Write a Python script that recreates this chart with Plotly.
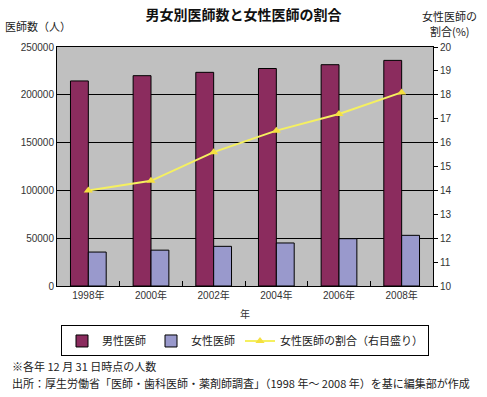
import plotly.graph_objects as go

years = ["1998年", "2000年", "2002年", "2004年", "2006年", "2008年"]
male = [214500, 220000, 223500, 227500, 231500, 236000]
female = [35500, 37500, 41500, 45000, 49500, 53000]
ratio = [14.0, 14.4, 15.6, 16.5, 17.2, 18.1]

JP = "Noto Sans CJK JP"
NUM = "Arial, 'Liberation Sans', 'Noto Sans CJK JP'"

fig = go.Figure()
fig.add_trace(go.Bar(x=years, y=male, name="男性医師",
                     marker=dict(color="#8B2C5E", line=dict(color="black", width=1))))
fig.add_trace(go.Bar(x=years, y=female, name="女性医師",
                     marker=dict(color="#9999CC", line=dict(color="black", width=1))))
fig.add_trace(go.Scatter(x=years, y=ratio, name="女性医師の割合（右目盛り）", yaxis="y2",
                         mode="lines+markers",
                         line=dict(color="#F5F060", width=2),
                         marker=dict(symbol="triangle-up", size=8, color="#F5E040")))

fig.update_layout(
    width=487, height=397,
    margin=dict(l=57, r=54, t=47, b=111, autoexpand=False),
    paper_bgcolor="white", plot_bgcolor="#C0C0C0",
    barmode="group", bargap=0.43, bargroupgap=0,
    showlegend=True,
    font=dict(family=NUM, size=10, color="#333333"),
    title=dict(text="男女別医師数と女性医師の割合", x=0.5, xanchor="center",
               y=1 - 15 / 397, yanchor="middle",
               font=dict(family=JP, size=14, color="#111111", weight="bold")),
    xaxis=dict(type="category", showline=True, linecolor="black", linewidth=1, mirror=True,
               ticks="inside", ticklen=5, tickcolor="black", tickson="boundaries",
               showgrid=False, automargin=False,
               tickfont=dict(family=NUM, size=10, color="#333333")),
    yaxis=dict(range=[0, 250000], dtick=50000, tickformat="d", showline=True,
               linecolor="black", linewidth=1, automargin=False,
               mirror=True, showgrid=True, gridcolor="black", gridwidth=1,
               ticks="", zeroline=False,
               tickfont=dict(family=NUM, size=10, color="#333333")),
    yaxis2=dict(range=[10, 20], dtick=1, overlaying="y", side="right", showgrid=False,
                showline=True, linecolor="black", linewidth=1, ticks="outside", ticklen=4,
                tickcolor="black", zeroline=False, automargin=False,
                tickfont=dict(family=NUM, size=10, color="#333333")),
    legend=dict(orientation="h", x=0.5, xanchor="center", y=-0.23, yanchor="middle",
                bordercolor="black", borderwidth=1, bgcolor="white",
                font=dict(family=JP, size=11, color="#222222"),
                traceorder="normal", itemwidth=30),
)

def note(text, x, y, size=10.5, xanchor="center", align="center", color="#222222"):
    fig.add_annotation(text=text, xref="paper", yref="paper", x=x, y=y,
                       xanchor=xanchor, yanchor="middle", align=align, showarrow=False,
                       font=dict(family=JP, size=size, color=color))

note("年", 0.5, -0.113, size=10, color="#333333")
note("医師数（人）", -0.05, 1.088, size=11)
note("女性医師の", 1.045, 1.128, size=11)
note("割合(%)", 1.045, 1.066, size=11)
note("※各年 12 月 31 日時点の人数", -0.125, -0.335, size=11, xanchor="left", align="left")
note("出所：厚生労働省「医師・歯科医師・薬剤師調査」（1998 年～ 2008 年）を基に編集部が作成",
     -0.125, -0.406, size=11, xanchor="left", align="left")

fig.write_html("out.html", config={"displayModeBar": False},
               post_script="document.body.style.margin='0';")
